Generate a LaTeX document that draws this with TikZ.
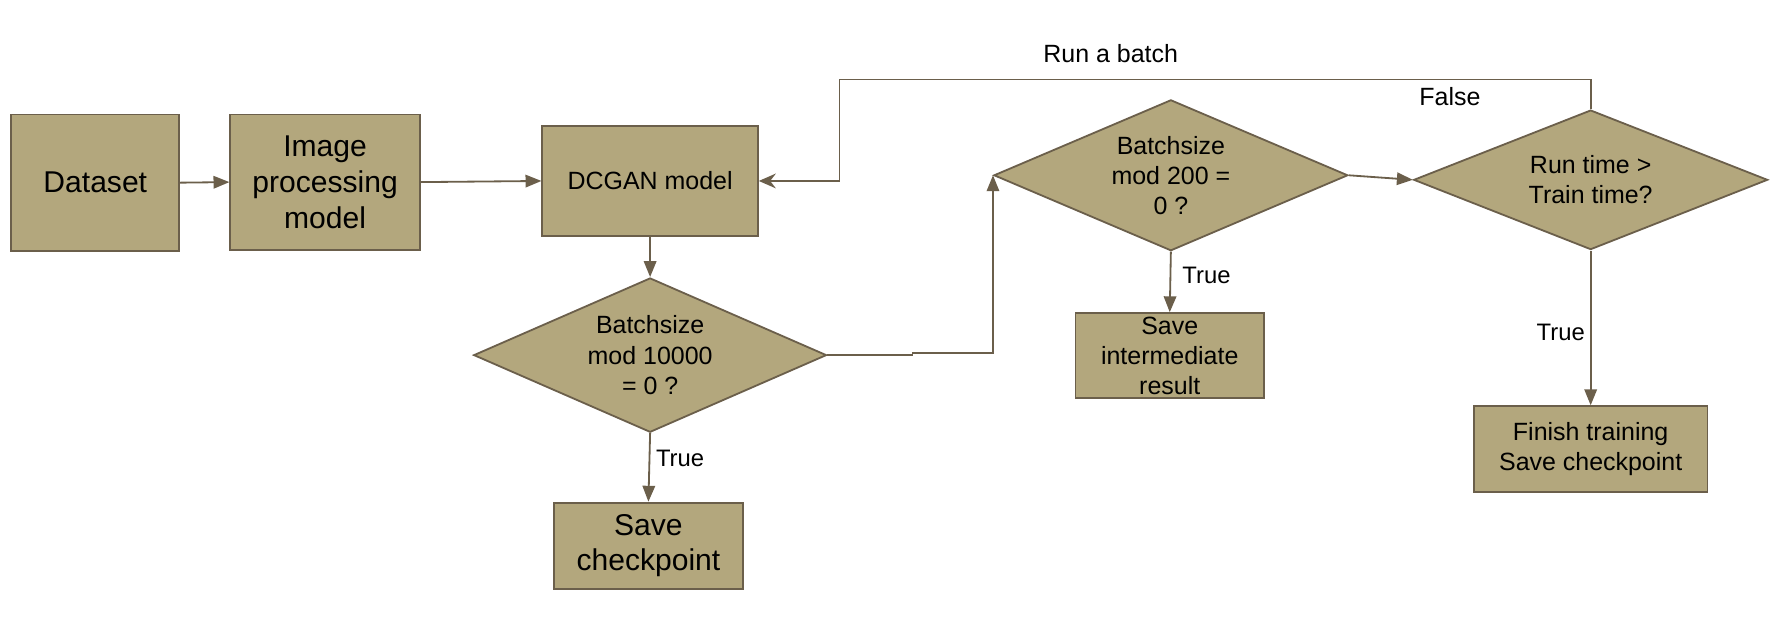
\documentclass[tikz,border=0pt]{standalone}
\usepackage{fontspec}
\setmainfont{Liberation Sans}
\usetikzlibrary{shapes.geometric,arrows.meta}
\definecolor{boxfill}{RGB}{179,167,125}
\definecolor{linec}{RGB}{107,95,75}
\tikzset{
  base/.style={draw=linec, fill=boxfill, line width=1.6pt, inner sep=0pt, align=center, text=black},
  bigbox/.style={base, rectangle, font=\fontsize{26.5}{31.5}\selectfont},
  medbox/.style={base, rectangle, font=\fontsize{22}{26.5}\selectfont},
  decision/.style={base, diamond, aspect=2.4, font=\fontsize{22}{26.5}\selectfont},
  conn/.style={draw=linec, line width=1.6pt},
  arr/.style={conn, -{Triangle[length=14pt,width=11pt]}},
  arrst/.style={conn, -{Stealth[length=15pt,width=13pt,inset=5pt]}},
  lbl/.style={inner sep=0pt, text=black, font=\fontsize{22}{26.5}\selectfont},
  truelbl/.style={inner sep=0pt, text=black, font=\fontsize{21}{25}\selectfont}
}
\begin{document}
\begin{tikzpicture}[x=1pt, y=-1pt]
\useasboundingbox (0,0) rectangle (1568,564);
% nodes
\node[bigbox, minimum width=148pt, minimum height=120pt] (data) at (84,161) {Dataset};
\node[bigbox, minimum width=167pt, minimum height=119pt] (img) at (286.5,160.5) {Image\\processing\\model};
\node[medbox, minimum width=190pt, minimum height=97pt] (dcgan) at (573,159.5) {DCGAN model};
\node[decision, minimum width=311pt, minimum height=136pt] (d1) at (573,313) {Batchsize\\mod 10000\\= 0 ?};
\node[bigbox, minimum width=167pt, minimum height=76pt] (savecp) at (571.5,481) {Save\\checkpoint};
\node[decision, minimum width=312pt, minimum height=133pt] (d2) at (1032,154.5) {Batchsize\\mod 200 =\\0 ?};
\node[medbox, minimum width=166pt, minimum height=75pt] (saveint) at (1031,313.5) {Save\\intermediate\\result};
\node[decision, minimum width=312pt, minimum height=123pt] (d3) at (1402,158.5) {Run time \textgreater\\Train time?};
\node[medbox, minimum width=206pt, minimum height=76pt] (finish) at (1402,396) {Finish training\\Save checkpoint};
% labels
\node[lbl] (lrun) at (979,47) {Run a batch};
\node[lbl] (lfalse) at (1278,85) {False};
\node[truelbl, anchor=west] (lt1) at (578,404) {True};
\node[truelbl, anchor=west] (lt2) at (1042,243) {True};
\node[truelbl, anchor=east] (lt3) at (1397,293) {True};
% connectors
\coordinate (loopTop) at (740,70);
\draw[arr] (data.east) -- (img.west);
\draw[arr] (img.east) -- (dcgan.west);
\draw[arr] (dcgan.south) -- (d1.north);
\draw[arr] (d1.south) -- (savecp.north);
\draw[arr] (d1.east) -- ++(75,0) -- ++(0,-2) -| (d2.west);
\draw[arr] (d2.east) -- (d3.west);
\draw[arr] (d2.south) -- (saveint.north);
\draw[arr] (d3.south) -- (finish.north);
\draw[arrst] (d3.north) -- (d3.north |- loopTop) -- (loopTop) |- (dcgan.east);
\end{tikzpicture}
\end{document}
